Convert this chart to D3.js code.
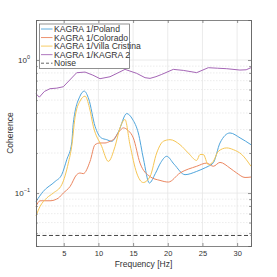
<!DOCTYPE html>
<html>
<head>
<meta charset="utf-8">
<script src="https://cdn.jsdelivr.net/npm/d3@7"></script>
<style>
body { margin: 0; background: #fff; }
svg text { font-family: "Liberation Sans", Arial, sans-serif; fill: #333; }
</style>
</head>
<body>
<div id="chart"></div>
<script>
var W = 277, H = 277;
var margin = {left: 36, right: 26, top: 20, bottom: 31};

var seriesNames = ["KAGRA 1/Poland", "KAGRA 1/Colorado", "KAGRA 1/Villa Cristina", "KAGRA 1/KAGRA 2"];
var seriesColors = ["#4fa5dc", "#eb8660", "#f6c655", "#a566b6"];

var polandFreq = [1, 2.05, 3.74, 4.71, 5.43, 6.15, 6.38, 7.34, 7.96, 8.6, 9.51, 10.4, 11.19, 11.92, 12.9, 14.08, 14.9, 15.75, 16.5, 17.34, 18.2, 19.0, 19.85, 20.9, 22.49, 24.17, 25.4, 25.85, 26.6, 27.53, 28.97, 30.42, 32];
var polandVal  = [0.0864, 0.103, 0.122, 0.1375, 0.178, 0.238, 0.337, 0.535, 0.584, 0.51, 0.318, 0.26, 0.252, 0.245, 0.29, 0.396, 0.36, 0.283, 0.18, 0.119, 0.14, 0.17, 0.189, 0.165, 0.1375, 0.1455, 0.155, 0.159, 0.17, 0.238, 0.283, 0.26, 0.231];

var coloradoFreq = [1, 1.58, 3.02, 4.22, 4.94, 5.91, 6.87, 7.35, 7.82, 8.79, 9.51, 10.23, 10.95, 11.67, 12.15, 13.0, 13.59, 14.3, 15.03, 16.0, 17.44, 18.88, 20.08, 21.76, 24.17, 25.61, 26.57, 27.53, 28.97, 29.94, 31.14, 32];
var coloradoVal  = [0.0792, 0.0875, 0.0875, 0.0917, 0.1, 0.112, 0.1375, 0.1415, 0.14, 0.173, 0.231, 0.238, 0.238, 0.245, 0.252, 0.29, 0.309, 0.295, 0.26, 0.168, 0.133, 0.1245, 0.121, 0.1415, 0.159, 0.168, 0.159, 0.17, 0.154, 0.1415, 0.131, 0.132];

var villaFreq = [1, 1.58, 2.54, 3.49, 4.71, 5.66, 6.15, 6.62, 7.34, 8.07, 8.7, 9.26, 10.47, 11.43, 12.4, 13.11, 13.83, 14.55, 15.52, 16.47, 17.44, 18.4, 19.36, 20.32, 21.76, 22.96, 24.17, 24.65, 25.12, 25.84, 26.56, 27.29, 28.5, 29.45, 30.66, 32];
var villaVal  = [0.0674, 0.0792, 0.0917, 0.1, 0.1155, 0.168, 0.2245, 0.368, 0.491, 0.535, 0.44, 0.318, 0.2245, 0.173, 0.2245, 0.309, 0.357, 0.231, 0.1415, 0.12, 0.133, 0.2, 0.245, 0.252, 0.231, 0.2, 0.176, 0.195, 0.195, 0.1634, 0.173, 0.206, 0.2185, 0.212, 0.195, 0.159];

var kagraFreq = [1, 1.48, 2.2, 3.02, 4.0, 4.94, 6.0, 6.87, 8.07, 9.2, 10.23, 11.67, 12.8, 13.83, 15.52, 16.72, 17.44, 18.3, 19.13, 20.8, 22.24, 24.17, 25.84, 27.2, 28.5, 30.4, 31.3, 32];
var kagraVal  = [0.558, 0.526, 0.58, 0.609, 0.615, 0.63, 0.72, 0.803, 0.812, 0.77, 0.724, 0.749, 0.8, 0.851, 0.794, 0.737, 0.728, 0.75, 0.78, 0.851, 0.836, 0.804, 0.876, 0.868, 0.861, 0.841, 0.845, 0.876];

var noiseLevel = 0.048;

var xTicks = [5, 10, 15, 20, 25, 30];
var yMajor = [0.1, 1];
var yMinor = [0.04, 0.05, 0.06, 0.07, 0.08, 0.09, 0.2, 0.3, 0.4, 0.5, 0.6, 0.7, 0.8, 0.9, 2];

var seriesData = [
  {f: polandFreq, v: polandVal, curve: d3.curveMonotoneX},
  {f: coloradoFreq, v: coloradoVal, curve: d3.curveMonotoneX},
  {f: villaFreq, v: villaVal, curve: d3.curveMonotoneX},
  {f: kagraFreq, v: kagraVal, curve: d3.curveLinear}
];

var svg = d3.select("#chart").append("svg").attr("width", W).attr("height", H);

var x = d3.scaleLinear().domain([1, 32]).range([margin.left, W - margin.right]);
var y = d3.scaleLog().domain([0.04, 2]).range([H - margin.bottom, margin.top]);

var x0 = x.range()[0], x1 = x.range()[1], y0 = y.range()[0], y1 = y.range()[1];

// grid
var grid = svg.append("g");
grid.selectAll(".gx").data(xTicks).enter().append("line")
  .attr("x1", d => x(d)).attr("x2", d => x(d)).attr("y1", y1).attr("y2", y0)
  .attr("stroke", "#e6e6e6").attr("stroke-width", 0.8);
grid.selectAll(".gy").data(yMajor).enter().append("line")
  .attr("x1", x0).attr("x2", x1).attr("y1", d => y(d)).attr("y2", d => y(d))
  .attr("stroke", "#e6e6e6").attr("stroke-width", 0.8);
grid.selectAll(".gm").data(yMinor.filter(d => d > 0.04 && d < 2)).enter().append("line")
  .attr("x1", x0).attr("x2", x1).attr("y1", d => y(d)).attr("y2", d => y(d))
  .attr("stroke", "#e4e4e4").attr("stroke-width", 0.7).attr("stroke-dasharray", "1.5,1.5");

// noise
svg.append("line")
  .attr("x1", x0).attr("x2", x1).attr("y1", y(noiseLevel)).attr("y2", y(noiseLevel))
  .attr("stroke", "#444").attr("stroke-width", 1).attr("stroke-dasharray", "4,2.5");

// series
var line = d3.line();
seriesData.forEach(function(s, i) {
  var pts = s.f.map((f, j) => [x(f), y(s.v[j])]);
  svg.append("path")
    .attr("d", line.curve(s.curve)(pts))
    .attr("fill", "none")
    .attr("stroke", seriesColors[i])
    .attr("stroke-width", 1);
});

// axes with inward ticks, on all sides
var axB = svg.append("g").attr("transform", "translate(0," + y0 + ")")
  .call(d3.axisBottom(x).tickValues(xTicks).tickSize(-3).tickPadding(5).tickFormat(d3.format("d")));
var axT = svg.append("g").attr("transform", "translate(0," + y1 + ")")
  .call(d3.axisTop(x).tickValues(xTicks).tickSize(-3).tickFormat(""));
var axL = svg.append("g").attr("transform", "translate(" + x0 + ",0)")
  .call(d3.axisLeft(y).tickValues(yMajor).tickSize(-3).tickFormat(""));
var axLm = svg.append("g").attr("transform", "translate(" + x0 + ",0)")
  .call(d3.axisLeft(y).tickValues(yMinor).tickSize(-1.8).tickFormat(""));
var axR = svg.append("g").attr("transform", "translate(" + x1 + ",0)")
  .call(d3.axisRight(y).tickValues(yMajor).tickSize(-3).tickFormat(""));
var axRm = svg.append("g").attr("transform", "translate(" + x1 + ",0)")
  .call(d3.axisRight(y).tickValues(yMinor).tickSize(-1.8).tickFormat(""));

[axB, axT, axL, axLm, axR, axRm].forEach(function(g) {
  g.selectAll(".domain").attr("stroke", "#666").attr("stroke-width", 0.8);
  g.selectAll(".tick line").attr("stroke", "#666").attr("stroke-width", 0.7);
});
axB.selectAll("text").attr("font-size", "7.5px").attr("fill", "#333");

// y labels 10^n
var yLab = svg.append("g");
yMajor.forEach(function(d) {
  var t = yLab.append("text")
    .attr("x", x0 - 6).attr("y", y(d) + 3)
    .attr("text-anchor", "end").attr("font-size", "8px");
  t.append("tspan").text("10");
  t.append("tspan").attr("dy", -4).attr("font-size", "5.5px").text(d3.format("d")(Math.log10(d)));
});

// axis titles
svg.append("text")
  .attr("x", (x0 + x1) / 2).attr("y", 267)
  .attr("text-anchor", "middle").attr("font-size", "8.5px")
  .text("Frequency [Hz]");
svg.append("text")
  .attr("transform", "translate(13," + ((y0 + y1) / 2) + ") rotate(-90)")
  .attr("text-anchor", "middle").attr("font-size", "8.5px")
  .text("Coherence");

// legend
var legend = svg.append("g");
legend.append("rect")
  .attr("x", 39.5).attr("y", 24).attr("width", 90).attr("height", 44.5)
  .attr("fill", "#fff").attr("stroke", "#777").attr("stroke-width", 0.8);
var legendNames = seriesNames.concat(["Noise"]);
var legendColors = seriesColors.concat(["#555"]);
legendNames.forEach(function(name, i) {
  var ly = 29 + i * 8.55;
  legend.append("line")
    .attr("x1", 41).attr("x2", 52.5).attr("y1", ly).attr("y2", ly)
    .attr("stroke", legendColors[i]).attr("stroke-width", 0.9)
    .attr("stroke-dasharray", name === "Noise" ? "3,2" : null);
  legend.append("text")
    .attr("x", 54).attr("y", ly + 3)
    .attr("font-size", "8.6px").attr("fill", "#222")
    .text(name);
});
</script>
</body>
</html>
